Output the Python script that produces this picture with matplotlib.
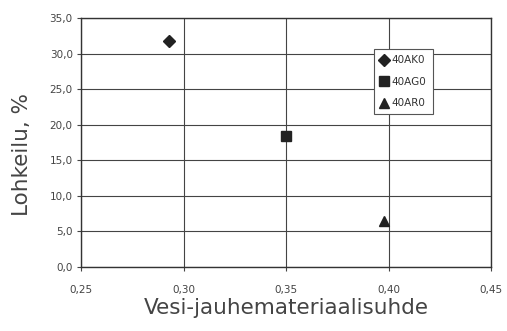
import matplotlib
matplotlib.use("Agg")
import matplotlib.pyplot as plt
from matplotlib.ticker import FuncFormatter

series = ["40AK0", "40AG0", "40AR0"]
x_vals = [0.293, 0.350, 0.398]
y_vals = [31.8, 18.4, 6.5]
markers = ["D", "s", "^"]
x_ticks = [0.25, 0.30, 0.35, 0.40, 0.45]
y_ticks = [0, 5, 10, 15, 20, 25, 30, 35]

plt.rcParams['font.family'] = ['DejaVu Sans']

fig = plt.figure(figsize=(5.07, 3.31), dpi=100)
ax = fig.add_axes([81/507, 1-267/331, (491-81)/507, (267-18)/331])

sizes = [6, 7, 7]
for s, x, y, m, ms in zip(series, x_vals, y_vals, markers, sizes):
    ax.plot([x], [y], linestyle='none', marker=m, color='#222222', markersize=ms, label=s)

ax.set_xlim(0.25, 0.45)
ax.set_ylim(0, 35)
ax.set_xticks(x_ticks)
ax.set_yticks(y_ticks)
ax.xaxis.set_major_formatter(FuncFormatter(lambda v, p: f"{v:.2f}".replace('.', ',')))
ax.yaxis.set_major_formatter(FuncFormatter(lambda v, p: f"{v:.1f}".replace('.', ',')))
ax.grid(True, color='#444444', linewidth=0.8)
ax.set_axisbelow(True)
for sp in ax.spines.values():
    sp.set_color('#333333')
    sp.set_linewidth(1.0)
ax.tick_params(axis='both', labelsize=7.5, colors='#444444', length=3, pad=3)
ax.tick_params(axis='x', pad=10)

ax.set_xlabel("Vesi-jauhemateriaalisuhde", fontsize=15.5, color='#444444', labelpad=2)
ax.set_ylabel("Lohkeilu, %", fontsize=15.5, color='#444444')
ax.yaxis.set_label_coords(-0.12, 0.45)

leg = ax.legend(loc='upper left', bbox_to_anchor=((374-81)/410, 1-(49-18)/249),
                fontsize=7.5, frameon=True, fancybox=False, borderpad=0.6,
                handlelength=0.8, handletextpad=0.3, labelspacing=1.1, borderaxespad=0)
leg.get_frame().set_edgecolor('#555555')
leg.get_frame().set_linewidth(0.8)
leg.get_frame().set_alpha(1)
for t in leg.get_texts():
    t.set_color('#333333')

fig.savefig("out.png", dpi=100)
